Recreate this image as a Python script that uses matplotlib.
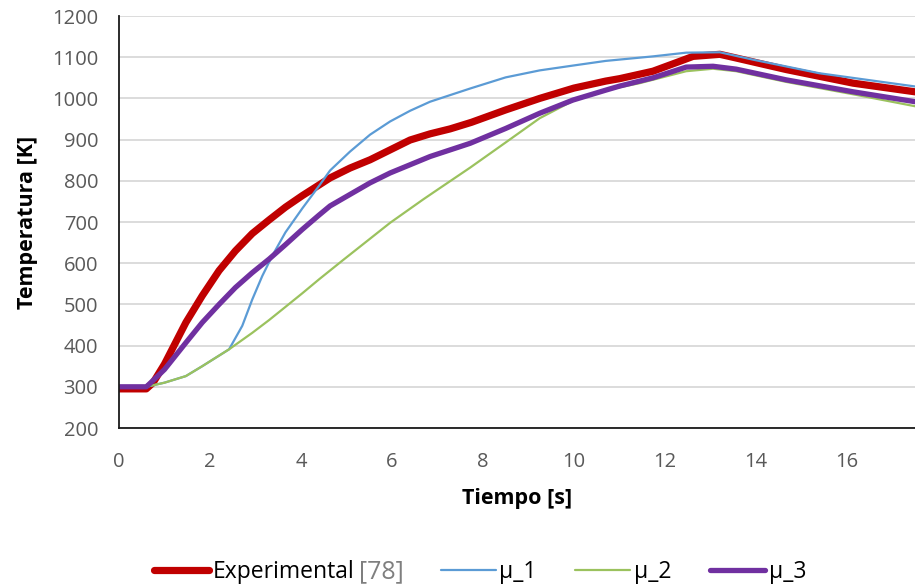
"""Temperature vs time: experimental data against three friction models."""

import matplotlib.pyplot as plt

# Experimental [78]
exp_t = [0.0, 0.6, 0.75, 1.0, 1.47, 1.83, 2.2, 2.56, 2.93, 3.3, 3.66, 4.03,
         4.4, 4.64, 5.08, 5.52, 5.96, 6.4, 6.84, 7.28, 7.75, 8.5, 9.25, 10.0,
         10.7, 11.01, 11.74, 12.33, 12.62, 13.21, 13.57, 14.67, 16.14, 17.5]
exp_T = [295, 295, 310, 355, 456, 521, 582, 630, 672, 705, 736, 764,
         790, 807, 831, 851, 875, 899, 914, 926, 942, 972, 1000, 1025,
         1042, 1048, 1066, 1090, 1102, 1107, 1098, 1070, 1037, 1016]

# mu_1
mu1_t = [0.0, 0.6, 1.0, 1.47, 1.83, 2.42, 2.71, 2.93, 3.15, 3.37, 3.66, 4.03,
         4.4, 4.64, 5.08, 5.52, 5.96, 6.4, 6.84, 7.28, 7.72, 8.5, 9.25, 10.0,
         10.7, 11.74, 12.47, 13.21, 13.94, 15.4, 17.5]
mu1_T = [300, 300, 310, 326, 350, 391, 448, 512, 569, 618, 675, 733,
         788, 825, 871, 912, 944, 970, 992, 1008, 1024, 1051, 1068, 1080,
         1091, 1102, 1111, 1112, 1094, 1061, 1029]

# mu_2
mu2_t = [0.0, 0.6, 1.0, 1.47, 1.83, 2.42, 2.93, 3.3, 3.66, 4.03, 4.4, 4.93,
         5.96, 6.69, 7.05, 7.72, 8.5, 9.25, 9.98, 10.7, 11.45, 12.47, 13.06,
         13.57, 14.67, 16.14, 17.5]
mu2_T = [300, 300, 310, 326, 350, 391, 431, 462, 494, 527, 561, 608,
         698, 755, 782, 832, 893, 952, 994, 1020, 1037, 1066, 1072,
         1066, 1040, 1010, 981]

# mu_3
mu3_t = [0.0, 0.6, 0.66, 1.0, 1.47, 1.83, 2.2, 2.56, 2.93, 3.3, 3.66, 4.03,
         4.4, 4.64, 5.08, 5.52, 5.96, 6.4, 6.84, 7.28, 7.72, 8.5, 9.25, 9.98,
         10.7, 11.01, 11.74, 12.47, 13.06, 13.57, 14.67, 16.14, 17.5]
mu3_T = [300, 300, 306, 342, 407, 456, 500, 541, 577, 610, 645, 682,
         717, 739, 767, 795, 819, 839, 859, 875, 891, 927, 964, 996,
         1020, 1030, 1050, 1076, 1078, 1071, 1045, 1016, 992]

y_ticks = list(range(200, 1201, 100))
x_ticks = list(range(0, 17, 2))

plt.rcParams["font.family"] = ["Open Sans", "DejaVu Sans"]

fig = plt.figure(figsize=(9.15, 5.86), dpi=100)
ax = fig.add_axes([119 / 915, 1 - 428 / 586, 1 - 119 / 915, (428 - 16) / 586])

line_kw = dict(solid_capstyle="round", solid_joinstyle="round")
ax.plot(exp_t, exp_T, color="#C00000", lw=5.2, label="Experimental [78]", **line_kw)
ax.plot(mu1_t, mu1_T, color="#5B9BD5", lw=1.6, label="μ_1", **line_kw)
ax.plot(mu2_t, mu2_T, color="#9BC25E", lw=1.6, label="μ_2", **line_kw)
ax.plot(mu3_t, mu3_T, color="#7030A0", lw=3.8, label="μ_3", **line_kw)

ax.set_xlim(0, 17.5)
ax.set_ylim(200, 1200)
ax.set_xticks(x_ticks)
ax.set_yticks(y_ticks)
ax.tick_params(length=0, labelsize=14.5, colors="#595959")
ax.tick_params(axis="y", pad=15)
ax.tick_params(axis="x", pad=17)
ax.grid(axis="y", color="#D9D9D9", lw=1.3)
ax.set_axisbelow(True)
for side in ("top", "right"):
    ax.spines[side].set_visible(False)
for side in ("left", "bottom"):
    ax.spines[side].set_color("#1A1A1A")
    ax.spines[side].set_linewidth(1.3)

ax.set_ylabel("Temperatura [K]", fontsize=15.5, fontweight="bold", labelpad=10)
ax.set_xlabel("Tiempo [s]", fontsize=15.5, fontweight="bold", labelpad=12)

leg = fig.legend(loc="center", bbox_to_anchor=(0.525, 0.024), ncol=4, frameon=False,
                 fontsize=16.5, handlelength=2.4, handletextpad=0.15,
                 columnspacing=1.7)

# the reference number is grey and a bit larger than the label text
fig.canvas.draw()
renderer = fig.canvas.get_renderer()
first = leg.get_texts()[0]
box = first.get_window_extent(renderer)
first.set_alpha(0)
yc = (box.y0 + box.y1) / 2
word = fig.text(box.x0, yc, "Experimental", fontsize=16.5, color="black",
                ha="left", va="center", transform=None)
word_w = word.get_window_extent(renderer).width
fig.text(box.x0 + word_w + 4, yc, "[78]", fontsize=18, color="#7F7F7F",
         ha="left", va="center", transform=None)

fig.savefig("out.png", dpi=100)
